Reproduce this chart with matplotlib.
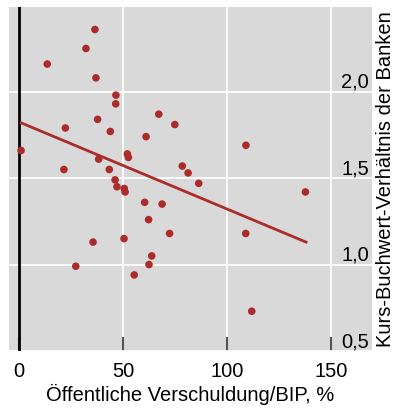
import numpy as np
import matplotlib
matplotlib.use('Agg')
import matplotlib.pyplot as plt

plt.rcParams['font.family'] = ['Liberation Sans', 'DejaVu Sans']

# public debt / GDP in % and price-to-book ratio of banks
debt = [36.5, 32.2, 13.6, 37.0, 46.6, 46.5, 67.2, 74.9, 37.8, 22.3,
        43.9, 61.1, 1.0, 52.1, 52.6, 38.3, 21.6, 43.4, 78.5, 81.3,
        86.4, 46.2, 47.1, 50.6, 51.0, 109.1, 137.7, 60.4, 68.8, 62.3,
        72.4, 50.5, 35.6, 63.8, 62.5, 27.3, 55.4, 109.0, 111.9]
pb_ratio = [2.36, 2.25, 2.16, 2.08, 1.98, 1.93, 1.87, 1.81, 1.84, 1.79,
            1.77, 1.74, 1.66, 1.64, 1.62, 1.61, 1.55, 1.55, 1.57, 1.53,
            1.47, 1.49, 1.45, 1.44, 1.42, 1.69, 1.42, 1.36, 1.35, 1.26,
            1.18, 1.15, 1.13, 1.05, 1.00, 0.99, 0.94, 1.18, 0.73]

# trend line
trend_x = [1.0, 138.0]
trend_y = [1.82, 1.13]

xticks = [0, 50, 100, 150]
yticks = [0.5, 1.0, 1.5, 2.0]
ytick_labels = ['0,5', '1,0', '1,5', '2,0']

red = '#AC2C2C'
fs = 14.5

fig = plt.figure(figsize=(3.98, 4.08), dpi=100)
ax = fig.add_axes([9 / 398, 57 / 408, 363 / 398, 344 / 408])
ax.set_facecolor('#D9D9D9')

ax.set_xlim(-4.8, 169.7)
ax.set_ylim(0.5, 2.49)

ax.grid(True, color='white', linewidth=1.2)
ax.set_axisbelow(True)
for s in ax.spines.values():
    s.set_visible(False)

ax.axvline(0, color='black', linewidth=2, zorder=2)

ax.plot(trend_x, trend_y, color=red, linewidth=2, zorder=3)
ax.scatter(debt, pb_ratio, s=30, color=red, edgecolors='none', zorder=4)

# x axis
ax.set_xticks(xticks)
ax.tick_params(axis='x', direction='in', length=10, width=1.5, color='#555555',
               labelsize=fs, pad=8)
ax.set_xlabel('Öffentliche Verschuldung/BIP, %', fontsize=fs, labelpad=2)

# y axis on the right, labels inside the plot
ax.yaxis.tick_right()
ax.set_yticks(yticks, ytick_labels)
ax.tick_params(axis='y', length=0, pad=-2, labelsize=fs)
for t in ax.yaxis.get_majorticklabels():
    t.set_horizontalalignment('right')
    t.set_verticalalignment('bottom')
ax.yaxis.set_label_position('right')
ax.set_ylabel('Kurs-Buchwert-Verhältnis der Banken', fontsize=fs, labelpad=3)

fig.savefig('out.png', dpi=100)
